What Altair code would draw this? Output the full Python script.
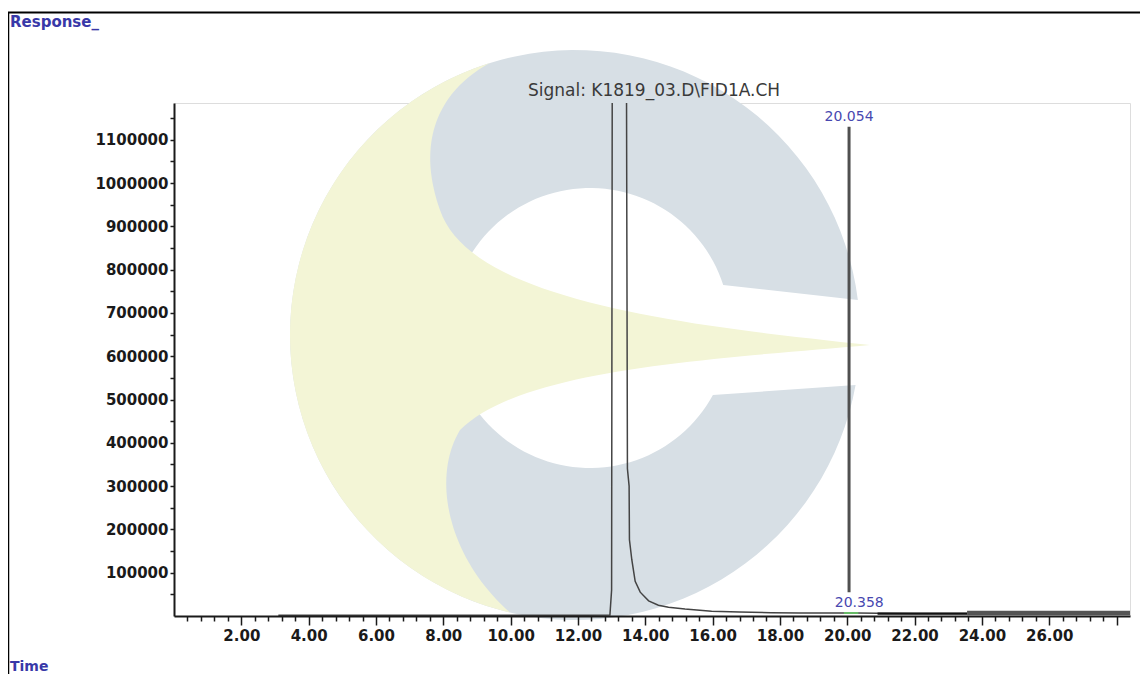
import altair as alt
import pandas as pd
import numpy as np

# ---------------- data ----------------
time_min = [3.10, 6.00, 9.00, 12.00, 12.95, 13.00, 13.02, 13.44, 13.47, 13.52,
            13.53, 13.60, 13.70, 13.85, 14.10, 14.39, 14.69, 15.18, 15.97, 16.80,
            17.74, 18.60, 19.44, 20.30, 20.90, 22.00, 23.56]
response = [1500, 1500, 1500, 1500, 2500, 60000, 1300000, 1300000, 340000, 300000,
            176000, 130000, 80000, 55000, 35000, 25000, 20000, 16000, 11000, 9000,
            7500, 7000, 7000, 7000, 6500, 6000, 6000]

# extra baseline pieces (series name, start, end, level)
seg_name = ["marker", "dense", "upper", "lower"]
seg_start = [19.90, 20.90, 23.56, 23.56]
seg_end = [20.33, 23.56, 28.40, 28.40]
seg_level = [7000, 5500, 9500, 4500]

# labelled peaks
peak_rt = [20.054, 20.358]
peak_label = ["20.054", "20.358"]
peak_top = [1130000, 7000]
peak_bottom = [55000, 7000]

x_tick_values = [round(0.4 * k, 1) for k in range(1, 71)]
y_tick_values = [50000 * k for k in range(1, 24)]

# ---------------- geometry of the plot area (page px) ----------------
W, H = 956, 513
OX, OY = 174, 103          # plot origin on the page
XMAX, YMAX = 28.4, 1185000
TOTAL_H = 666

trace = pd.DataFrame({"t": time_min, "r": response})
segs = pd.DataFrame({"name": seg_name, "t0": seg_start, "t1": seg_end, "lev": seg_level})
peaks = pd.DataFrame({"rt": peak_rt, "label": peak_label, "top": peak_top, "bot": peak_bottom})

xscale = alt.Scale(domain=[0, XMAX], nice=False, zero=False)
yscale = alt.Scale(domain=[0, YMAX], nice=False)

major_test = "abs(datum.value/2 - round(datum.value/2)) < 0.001"
x_axis = alt.Axis(
    values=x_tick_values, tickCount=500, title=None, grid=False,
    domainColor="#1a1a1a", domainWidth=2,
    tickColor="#1a1a1a", tickWidth=1.5,
    tickSize={"condition": {"test": major_test, "value": 9}, "value": 5},
    labelExpr=f"({major_test} && datum.value <= 26.01) ? format(datum.value, '.2f') : ''",
    labelFont="DejaVu Sans", labelFontSize=15, labelFontWeight="bold", labelColor="#1a1a1a",
    labelPadding=3, labelOverlap=False, labelFlush=False, zindex=1,
)
y_axis = alt.Axis(
    values=y_tick_values, tickCount=500, title=None, grid=False, format="d",
    domainColor="#1a1a1a", domainWidth=2,
    tickColor="#1a1a1a", tickWidth=1.5, tickSize=4,
    labelExpr="datum.value % 100000 === 0 ? datum.label : ''",
    labelFont="DejaVu Sans", labelFontSize=15, labelFontWeight="bold", labelColor="#1a1a1a",
    labelPadding=2, labelOverlap=False, labelFlush=False, zindex=1,
)

# ---------------- watermark (decorative logo) ----------------
CX, CY, S = 575, 335, 320


def arc_pts(cx, cy, r, a0, a1, n=120):
    a = np.linspace(a0, a1, n)
    return list(zip(cx + r * np.cos(a), cy + r * np.sin(a)))


def bez(p0, p1, p2, p3, n=40):
    t = np.linspace(0, 1, n)[:, None]
    p0, p1, p2, p3 = map(np.array, (p0, p1, p2, p3))
    pts = (1 - t) ** 3 * p0 + 3 * (1 - t) ** 2 * t * p1 + 3 * (1 - t) * t ** 2 * p2 + t ** 3 * p3
    return [tuple(p) for p in pts]


def to_path(pts):
    s = "M" + " L".join(f"{(x - CX) / S:.4f},{(y - CY) / S:.4f}" for x, y in pts)
    return s + " Z"


ring = arc_pts(575, 335, 285, -0.1231, 0.1763 - 2 * np.pi) + \
       arc_pts(590, 328, 140, 0.4990, -0.3122 + 2 * np.pi)
tongue = bez((870, 345), (680, 325), (470, 300), (440, 210)) + \
         bez((440, 210), (415, 140), (440, 90), (490, 63)) + \
         arc_pts(575, 335, 285, -1.8737, -4.4823) + \
         bez((510, 612.5), (450, 560), (430, 480), (460, 430)) + \
         bez((460, 430), (520, 370), (700, 360), (870, 345))

one = alt.Data(values=[{"k": 1}])


def logo_part(path, color):
    return alt.Chart(one).mark_point(
        shape=path, filled=True, size=(2 * S) ** 2, color=color, opacity=1, strokeWidth=0
    ).encode(x=alt.value(CX - OX), y=alt.value(CY - OY))


wm_ring = logo_part(to_path(ring), "#d7dfe5")
wm_tongue = logo_part(to_path(tongue), "#f3f5d6")

# ---------------- chart layers ----------------
base_line = alt.Chart(trace).mark_line(color="#444444", strokeWidth=1.5, clip=True).encode(
    x=alt.X("t:Q", scale=xscale, axis=x_axis),
    y=alt.Y("r:Q", scale=yscale, axis=y_axis),
)

seg_colors = alt.Scale(domain=seg_name, range=["#66bb66", "#111111", "#555555", "#555555"])
seg_layer = alt.Chart(segs).mark_rule(clip=True).encode(
    x="t0:Q", x2="t1:Q", y="lev:Q",
    color=alt.Color("name:N", scale=seg_colors, legend=None),
    strokeWidth=alt.StrokeWidth("name:N", scale=alt.Scale(domain=seg_name, range=[2, 2.5, 1.2, 1.2]), legend=None),
)

peak_rule = alt.Chart(peaks).transform_filter("datum.top > datum.bot").mark_rule(
    color="#505050", strokeWidth=3).encode(x="rt:Q", y="bot:Q", y2="top:Q")

peak_text = alt.Chart(peaks).mark_text(
    font="DejaVu Sans", fontSize=14, color="#4848b0", baseline="bottom", dy=-3
).encode(x="rt:Q", y="top:Q", text="label:N")


def static_text(txt, x, y, color, size, align="left", weight="normal"):
    return alt.Chart(one).mark_text(
        text=txt, font="DejaVu Sans", fontSize=size, color=color, align=align,
        baseline="middle", fontWeight=weight
    ).encode(x=alt.value(x), y=alt.value(y))


t_signal = static_text(r"Signal: K1819_03.D\FID1A.CH", 654 - OX, 91 - OY, "#3a3a3a", 17, "center")
t_resp = static_text("Response_", 10 - OX, 22 - OY, "#3838a8", 15, weight="bold")
t_time = static_text("Time", 10 - OX, 667 - OY, "#3838a8", 14, weight="bold")

frame_left = alt.Chart(one).mark_rule(color="#000000", strokeWidth=2.5).encode(
    x=alt.value(8 - OX), y=alt.value(12 - OY), y2=alt.value(700 - OY))
frame_top = alt.Chart(one).mark_rule(color="#000000", strokeWidth=2).encode(
    x=alt.value(8 - OX), x2=alt.value(1160 - OX), y=alt.value(12.5 - OY))

chart = alt.layer(
    wm_ring, wm_tongue, base_line, seg_layer, peak_rule, peak_text,
    t_signal, t_resp, t_time, frame_left, frame_top,
).properties(
    width=W, height=H, autosize="none",
    padding={"left": OX - 8, "top": OY - 8, "right": 1148 - 16 - (OX - 8) - W,
             "bottom": TOTAL_H - (OY - 8) - H},
).configure_view(stroke=None).configure(background="white")

chart.save("out.html", embed_options={"renderer": "svg", "actions": False})
